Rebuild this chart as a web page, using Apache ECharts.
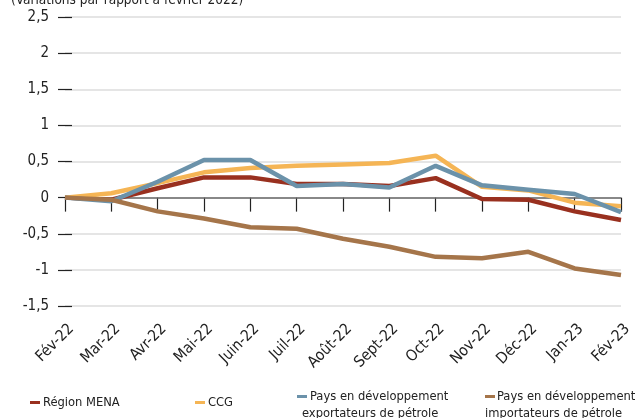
<!DOCTYPE html>
<html><head><meta charset="utf-8">
<script src="https://cdn.jsdelivr.net/npm/echarts@6/dist/echarts.min.js"></script>
<style>html,body{margin:0;padding:0;background:#fff}#c{width:637px;height:418px}</style>
</head><body><div id="c"></div>
<script>
const categories = ['Fév-22','Mar-22','Avr-22','Mai-22','Juin-22','Juil-22','Août-22','Sept-22','Oct-22','Nov-22','Déc-22','Jan-23','Fév-23'];
const menaName = 'Région MENA';
const menaValues = [0, -0.03, 0.13, 0.28, 0.28, 0.19, 0.19, 0.16, 0.27, -0.02, -0.03, -0.19, -0.31];
const ccgName = 'CCG';
const ccgValues = [0, 0.06, 0.2, 0.35, 0.41, 0.44, 0.46, 0.48, 0.58, 0.15, 0.1, -0.07, -0.12];
const exportName = 'Pays en développement exportateurs de pétrole';
const exportValues = [0, -0.05, 0.22, 0.52, 0.52, 0.16, 0.19, 0.14, 0.44, 0.17, 0.11, 0.05, -0.2];
const importName = 'Pays en développement importateurs de pétrole';
const importValues = [0, -0.03, -0.19, -0.29, -0.41, -0.43, -0.57, -0.68, -0.82, -0.84, -0.75, -0.98, -1.07];
const titleText = '(Variations par rapport à février 2022)';
const yTicks = {min: -1.5, max: 2.5, interval: 0.5};

const FONT = '"DejaVu Sans Condensed", "Liberation Sans Narrow", Roboto, sans-serif';
const chart = echarts.init(document.getElementById('c'), null, {renderer: 'canvas'});
const colors = ['#99301f', '#f5b555', '#6b92aa', '#a5754a'];
function line(name, data, color, z) {
  return {name, type: 'line', data, symbol: 'none', smooth: false, z,
    lineStyle: {color, width: 4.5}, itemStyle: {color}};
}
const s1 = line(menaName, menaValues, colors[0], 3);
s1.markLine = {silent: true, symbol: 'none', label: {show: false},
  lineStyle: {color: '#6a6a6a', width: 1.5, type: 'solid'}, data: [{yAxis: 0}], z: 1};
function leg(name, left, top, text, pad) {
  return {data: [name], left, top, padding: 0, itemWidth: 10, itemHeight: 3, icon: 'rect', itemGap: 0,
    formatter: () => text, textStyle: {fontFamily: FONT, fontSize: 12.8, color: '#222', padding: [0,0,0,pad]}};
}
chart.setOption({
  animation: false,
  color: colors,
  title: {text: titleText, left: 6, top: -12, textStyle: {fontFamily: FONT, fontSize: 13.5, fontWeight: 'normal', color: '#222'}},
  grid: {left: 65, right: 16, top: 17, bottom: 112},
  legend: [
    leg(menaName, 30, 396, 'Région MENA', -2),
    leg(ccgName, 195, 396, 'CCG', -2),
    leg(exportName, 297, 390, 'Pays en développement', -2),
    leg(importName, 485, 390, 'Pays en développement', -3)
  ],
  graphic: [
    {type: 'text', left: 302, top: 407, style: {text: 'exportateurs de pétrole', font: '12.8px ' + FONT, fill: '#222'}},
    {type: 'text', left: 485, top: 407, style: {text: 'importateurs de pétrole', font: '12.8px ' + FONT, fill: '#222'}}
  ],
  xAxis: [{
    type: 'category', data: categories, boundaryGap: false, offset: -7,
    axisLine: {show: false},
    axisTick: {show: true, alignWithLabel: true, length: 14, lineStyle: {color: '#222', width: 1.2}},
    axisLabel: {rotate: 45, fontFamily: FONT, fontSize: 15.5, color: '#222', margin: 34, interval: 0,
      padding: [0, -9, 0, 0]},
    splitLine: {show: false}
  }],
  yAxis: [{
    type: 'value', min: yTicks.min, max: yTicks.max, interval: yTicks.interval, offset: -7,
    axisLine: {show: false},
    axisTick: {show: true, length: 14, lineStyle: {color: '#222', width: 1.2}},
    axisLabel: {fontFamily: FONT, fontSize: 15, color: '#222', margin: 23,
      formatter: v => String(v).replace('.', ',')},
    splitLine: {show: true, lineStyle: {color: '#dcdcdc', width: 1.5}}
  }],
  series: [
    s1,
    line(ccgName, ccgValues, colors[1], 4),
    line(exportName, exportValues, colors[2], 5),
    line(importName, importValues, colors[3], 6)
  ]
});
</script></body></html>
